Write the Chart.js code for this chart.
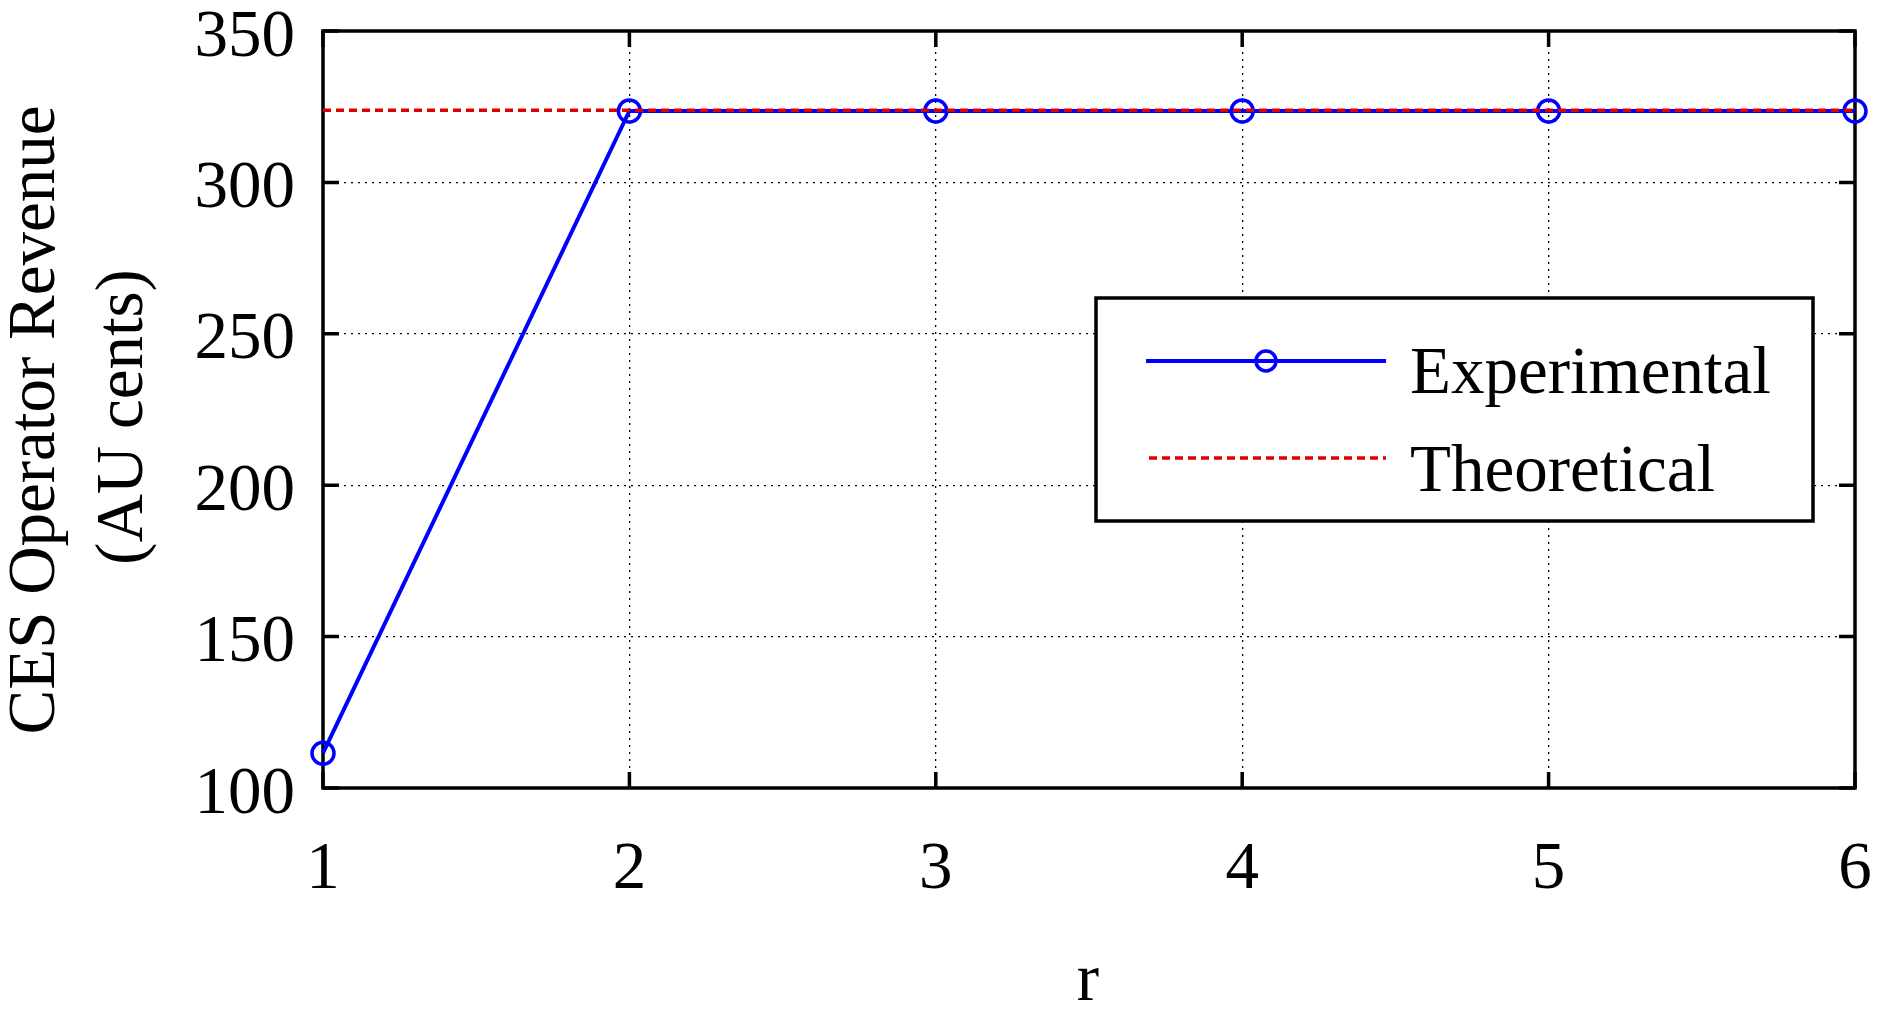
<!DOCTYPE html>
<html>
<head>
<meta charset="utf-8">
<script src="https://cdn.jsdelivr.net/npm/chart.js@4.4.1/dist/chart.umd.min.js"></script>
<style>
html, body { margin: 0; padding: 0; background: #fff; }
canvas { display: block; }
</style>
</head>
<body>
<canvas id="revenueChart" width="1887" height="1015"></canvas>
<script>
// data
const rValues = [1, 2, 3, 4, 5, 6];
const experimental = [111.5, 323.6, 323.6, 323.6, 323.6, 323.6];
const theoretical = [323.8, 323.8, 323.8, 323.8, 323.8, 323.8];
const yTickValues = [100, 150, 200, 250, 300, 350];
const xTitle = 'r';
const yTitleLines = ['CES Operator Revenue', '(AU cents)'];
const legendLabels = ['Experimental', 'Theoretical'];

const FONT = "'Liberation Serif', 'Times New Roman', serif";
const BLUE = '#0000ff';
const RED = '#e00000';

// box round the axes, with MATLAB style inward ticks
const framePlugin = {
	id: 'frame',
	beforeDatasetsDraw(chart) {
		const ctx = chart.ctx;
		const a = chart.chartArea;
		const x = chart.scales.x, y = chart.scales.y;
		const len = 16;
		ctx.save();
		ctx.strokeStyle = '#000';
		ctx.lineWidth = 3.5;
		ctx.strokeRect(a.left, a.top, a.right - a.left, a.bottom - a.top);
		ctx.beginPath();
		x.ticks.forEach(t => {
			const px = x.getPixelForValue(t.value);
			ctx.moveTo(px, a.bottom); ctx.lineTo(px, a.bottom - len);
			ctx.moveTo(px, a.top); ctx.lineTo(px, a.top + len);
		});
		y.ticks.forEach(t => {
			const py = y.getPixelForValue(t.value);
			ctx.moveTo(a.left, py); ctx.lineTo(a.left + len, py);
			ctx.moveTo(a.right, py); ctx.lineTo(a.right - len, py);
		});
		ctx.stroke();
		ctx.restore();
	}
};

// axis titles and the boxed legend
const textPlugin = {
	id: 'texts',
	afterDraw(chart) {
		const ctx = chart.ctx;
		ctx.save();
		ctx.fillStyle = '#000';
		ctx.font = '67px ' + FONT;
		ctx.textAlign = 'center';
		ctx.textBaseline = 'alphabetic';
		ctx.fillText(xTitle, 1088, 1000);

		const titlePos = [[54, 420], [142, 417]];
		yTitleLines.forEach((line, i) => {
			ctx.save();
			ctx.translate(titlePos[i][0], titlePos[i][1]);
			ctx.rotate(-Math.PI / 2);
			ctx.fillText(line, 0, 0);
			ctx.restore();
		});

		// legend
		const box = { l: 1096, t: 298, r: 1813, b: 521 };
		ctx.fillStyle = '#fff';
		ctx.fillRect(box.l, box.t, box.r - box.l, box.b - box.t);
		ctx.strokeStyle = '#000';
		ctx.lineWidth = 3.5;
		ctx.strokeRect(box.l, box.t, box.r - box.l, box.b - box.t);

		ctx.lineWidth = 4;
		ctx.strokeStyle = BLUE;
		ctx.beginPath();
		ctx.moveTo(1146, 361); ctx.lineTo(1386, 361);
		ctx.stroke();
		ctx.lineWidth = 3.5;
		ctx.beginPath();
		ctx.arc(1266, 361, 10, 0, Math.PI * 2);
		ctx.stroke();

		ctx.lineWidth = 3.5;
		ctx.strokeStyle = RED;
		ctx.setLineDash([8, 5]);
		ctx.beginPath();
		ctx.moveTo(1149, 458); ctx.lineTo(1386, 458);
		ctx.stroke();
		ctx.setLineDash([]);

		ctx.fillStyle = '#000';
		ctx.textAlign = 'left';
		ctx.fillText(legendLabels[0], 1410, 393);
		ctx.fillText(legendLabels[1], 1410, 491);
		ctx.restore();
	}
};

const ctx = document.getElementById('revenueChart').getContext('2d');
const chart = new Chart(ctx, {
	type: 'line',
	data: {
		datasets: [
			{
				label: legendLabels[0],
				data: rValues.map((r, i) => ({ x: r, y: experimental[i] })),
				borderColor: BLUE,
				borderWidth: 4,
				pointStyle: 'circle',
				pointRadius: 11,
				pointBorderWidth: 3.5,
				pointBorderColor: BLUE,
				pointBackgroundColor: 'rgba(0,0,0,0)',
				fill: false,
				tension: 0,
				clip: false,
				order: 2
			},
			{
				label: legendLabels[1],
				data: rValues.map((r, i) => ({ x: r, y: theoretical[i] })),
				borderColor: RED,
				borderWidth: 3.5,
				borderDash: [8, 5],
				pointRadius: 0,
				fill: false,
				tension: 0,
				order: 1
			}
		]
	},
	options: {
		responsive: false,
		animation: false,
		events: [],
		layout: { padding: { left: 0, right: 32, top: 31, bottom: 0 } },
		plugins: {
			legend: { display: false },
			tooltip: { enabled: false }
		},
		scales: {
			x: {
				type: 'linear',
				min: 1,
				max: 6,
				afterFit: s => { s.height = 227; s.paddingLeft = 0; s.paddingRight = 0; },
				grid: { color: '#000', lineWidth: 1.3, drawTicks: false },
				border: { display: false, dash: [2, 5] },
				ticks: {
					stepSize: 1,
					autoSkip: false,
					maxRotation: 0,
					padding: 42,
					color: '#000',
					font: { family: FONT, size: 67 }
				}
			},
			y: {
				min: 100,
				max: 350,
				afterFit: s => { s.width = 323; s.paddingTop = 0; s.paddingBottom = 0; },
				afterBuildTicks: s => { s.ticks = yTickValues.map(v => ({ value: v })); },
				grid: { color: '#000', lineWidth: 1.3, drawTicks: false },
				border: { display: false, dash: [2, 5] },
				ticks: {
					padding: 28,
					labelOffset: 7,
					color: '#000',
					font: { family: FONT, size: 67 }
				}
			}
		}
	},
	plugins: [framePlugin, textPlugin]
});
</script>
</body>
</html>
